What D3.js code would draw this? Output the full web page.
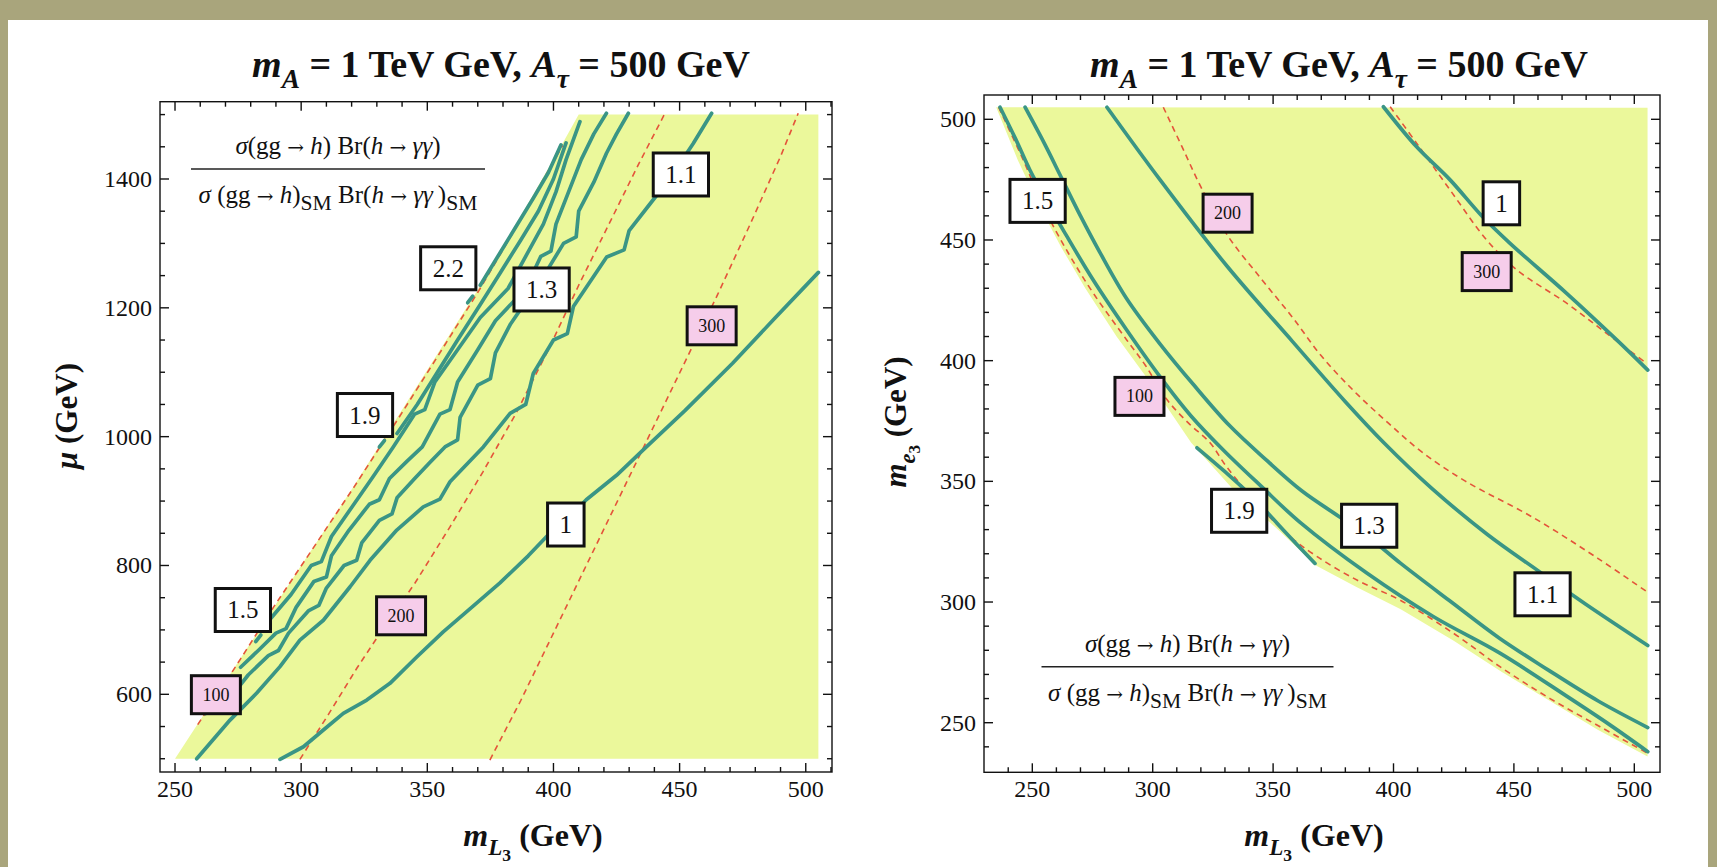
<!DOCTYPE html>
<html><head><meta charset="utf-8">
<script src="https://cdn.jsdelivr.net/npm/d3@7"></script>
<style>
body{margin:0;background:#a9a57c;}
svg{display:block}
text{font-family:"Liberation Serif","Times New Roman",serif;fill:#111;}
</style></head><body>
<svg id="chart" width="1717" height="867"></svg>
<script>
// ---------- axis ticks ----------
const xMajorL = [250, 300, 350, 400, 450, 500];
const yMajorL = [600, 800, 1000, 1200, 1400];
const xMajorR = [250, 300, 350, 400, 450, 500];
const yMajorR = [250, 300, 350, 400, 450, 500];

// ---------- left panel: mu vs m_L3 ----------
// edge of the allowed (filled) region
const allowedEdgeL = [[250,500],[275,650],[300,800],[320,918],[337,1023],[353,1122],[369.5,1225],[386,1335],[402.6,1448],[410,1500]];
// ratio contours
const ratio1L   = [[291.6,499],[300.9,518.6],[308.8,544.6],[316.7,570.5],[326,591],[335.2,617],[345.8,658],[356.3,697],[367,733],[378.8,773],[390,815],[397.3,845],[404,866],[413,902],[425,940],[436,981],[452,1040],[471,1114],[488,1185],[505,1255]];
const ratio11L  = [[258.6,500],[271.8,560],[282.4,602],[291.6,643],[299.5,684],[308.8,715],[319.4,767],[327.3,808],[337.9,855],[348.4,891],[355,903],[359,930],[372.2,984],[382.8,1036],[389,1050],[392,1098],[400,1150],[405.5,1160],[407.9,1202],[421.1,1279],[428,1290],[430,1320],[438,1360],[446,1400],[455.4,1455],[462.7,1502]];
const ratio13L  = [[262,570],[270,600],[276,615],[279,630],[287,660],[291,668],[295,695],[303,730],[307,738],[310,765],[317,800],[322,808],[324,835],[331,870],[336,880],[338,905],[345,935],[351,960],[357,984],[362,995],[363,1030],[370,1080],[375,1090],[377,1130],[383,1175],[390,1215],[397,1255],[404,1300],[409,1310],[410,1350],[416,1395],[421,1440],[425,1470],[429.7,1502]];
const ratio14L  = [[276,642],[283,668],[290,695],[294,702],[298,735],[305,775],[310,782],[312,815],[319,855],[327,895],[331,902],[335,935],[342,962],[348,984],[355,1035],[359,1042],[362,1085],[370,1135],[377,1180],[389,1230],[395,1280],[399,1288],[401,1330],[406,1380],[411,1430],[416,1470],[421,1502]];
const ratio15L  = [[[282,682],[284,692]],
                   [[288,718],[296,755],[304,800],[308,806],[312,845],[320,890],[328,935],[336.5,984],[345,1035],[349,1042],[353,1085],[362,1135],[371,1185],[382,1230],[389,1280],[396,1330],[401,1380],[405,1430],[410.5,1489]]];
const ratio19L  = [[[331,984],[333,994]],
                   [[338,1005],[346,1050],[354,1100],[362,1150],[371,1205],[379,1255],[387,1305],[394,1350],[400,1400],[405,1456]]];
const ratio22L  = [[[366,1208],[368,1218]],
                   [[371,1235],[378,1280],[385,1325],[392,1370],[398,1410],[403,1453]]];
// stau mass contours (GeV)
const stau100L  = [[259,553],[276,655],[289,735],[301,805],[321,922],[338,1025],[354,1124],[370.5,1227],[387,1337],[403.6,1452]];
const stau200L  = [[299.5,499],[311,570],[322,640],[333,705],[345,772],[359,860],[372,945],[385,1035],[398,1135],[410,1235],[422,1330],[434,1425],[444.2,1502]];
const stau300L  = [[374.8,498],[387,590],[400,695],[413,800],[426,905],[439,1010],[452,1115],[465,1220],[478,1330],[490,1435],[497,1502]];
const labelsL = [
  {text:"2.2", at:[358.3,1261.4], kind:"ratio"},
  {text:"1.9", at:[325.3,1033.6], kind:"ratio"},
  {text:"1.5", at:[276.9,730.9],  kind:"ratio"},
  {text:"1.3", at:[395.3,1228.5], kind:"ratio"},
  {text:"1.1", at:[450.5,1407],   kind:"ratio"},
  {text:"1",   at:[404.9,863.6],  kind:"ratio"},
  {text:"100", at:[266.2,599.4],  kind:"mass"},
  {text:"200", at:[339.6,721.9],  kind:"mass"},
  {text:"300", at:[462.7,1172.1], kind:"mass"}
];

// ---------- right panel: m_e3 vs m_L3 ----------
const allowedEdgeR = [[235,505],[244,483],[253,464],[262,447],[272,430],[285,410],[299,391],[316,366],[334,346],[352,330],[368,315],[385,306],[403,297],[425,284],[445,271],[465,259],[485,247],[505.5,236]];
const ratio1R   = [[395.8,505.2],[409.6,488.6],[423.5,474.9],[437,459.6],[448.4,448.6],[471.9,427.9],[492.7,408.6],[505.6,396.1]];
const ratio11R  = [[281,505],[303,475],[331,439],[358,408],[380,383],[396,366],[416,347],[439,328],[460,313],[480,299],[505.6,282]];
const ratio13R  = [[247,505],[255,490],[262,476],[270,460],[278,445],[289,426],[303,407],[317,390],[332,373],[347,359],[362,346],[378,335],[392,325],[403,316],[424,300],[444,285],[464,272],[485,259],[505.6,248]];
const ratio15R  = [[236.6,505],[243,492],[249,479],[256,466],[262.9,454],[275.3,433.4],[289.2,412.7],[303,393.4],[316,377],[329.3,363],[345,348],[361.2,333],[388.9,312],[416.5,294],[444.2,278.8],[471.9,261],[490,249],[505.6,238]];
const ratio19R  = [[318.4,363.9],[330,354],[342,343],[355,329],[367.4,316]];
const stau100R  = [[236,505],[246.3,483],[255,463],[265,444.5],[275.3,428],[289.2,408.6],[297,398],[305.8,384],[315,374],[323.8,366],[330.7,356],[344.6,339.5],[356,328],[368,319],[385,309],[402.7,300.8],[425,287],[444.2,273.2],[465,260],[485.8,248.3],[505.6,237.3]];
const stau200R  = [[304.4,505],[312,489],[320,472],[331,452],[345,434],[358,418],[370,402],[384,387],[398,374],[412,362],[430,350],[458,335],[485,318],[505.6,304]];
const stau300R  = [[398.6,505.2],[409.6,490.1],[423.5,470.7],[438.7,450],[451.2,437.6],[471.9,423.8],[488.5,411.3],[505.1,398.9]];
const labelsR = [
  {text:"1.5", at:[252.2,466.2], kind:"ratio"},
  {text:"1.9", at:[335.9,337.8], kind:"ratio"},
  {text:"1.3", at:[389.9,331.6], kind:"ratio"},
  {text:"1.1", at:[461.9,303.2], kind:"ratio"},
  {text:"1",   at:[444.8,465.2], kind:"ratio"},
  {text:"100", at:[294.5,385.2], kind:"mass"},
  {text:"200", at:[331.1,461.1], kind:"mass"},
  {text:"300", at:[438.7,436.9], kind:"mass"}
];

// ---------- styles ----------
const FILL = "#ebf89b", TEAL = "#3a9585", RED = "#e4543a", PINK = "#f6cdea";

const svg = d3.select("#chart");
svg.append("rect").attr("width",1717).attr("height",867).attr("fill","#a9a57c");
svg.append("rect").attr("x",8).attr("y",20).attr("width",1700).attr("height",847).attr("fill","#fff");

// rich text helper: segments with italic / subscript level / alternate font
function rich(parent, x, y, segs, size, anchor, bold, rotate) {
  const t = parent.append("text").attr("x",x).attr("y",y)
    .attr("font-size",size).attr("text-anchor",anchor)
    .attr("font-weight", bold ? "bold" : "normal");
  if (rotate) t.attr("transform",`rotate(${rotate},${x},${y})`);
  const off = [0, size*0.28, size*0.46];
  const sz = [size, size*0.72, size*0.55];
  let lv = 0;
  segs.forEach(s => {
    const l = s.lv || 0;
    const ts = t.append("tspan").text(s.t)
      .attr("font-size", sz[l]*(s.scale||1))
      .attr("font-style", s.i ? "italic" : "normal");
    if (s.font) ts.attr("font-family", s.font);
    if (l !== lv) ts.attr("dy", off[l]-off[lv]);
    lv = l;
  });
  return t;
}

const ARROW = {t:"→", font:"DejaVu Serif", scale:0.8};
const SM = {t:"SM", lv:1, scale:1.2};
const numer = [{t:"σ",i:1},{t:"(gg "},ARROW,{t:" "},{t:"h",i:1},{t:") Br("},{t:"h",i:1},{t:" "},ARROW,{t:" "},{t:"γγ",i:1},{t:")"}];
const denom = [{t:"σ",i:1},{t:" (gg "},ARROW,{t:" "},{t:"h",i:1},{t:")"},SM,{t:" Br(",lv:0},{t:"h",i:1},{t:" "},ARROW,{t:" "},{t:"γγ",i:1},{t:"\u2009)"},SM];
const titleSegs = [{t:"m",i:1},{t:"A",i:1,lv:1},{t:" = 1 TeV GeV, "},{t:"A",i:1},{t:"τ",i:1,lv:1},{t:" = 500 GeV"}];
const xLabSegs = [{t:"m",i:1},{t:"L",i:1,lv:1},{t:"3",lv:2},{t:" (GeV)"}];

function panel(cfg) {
  const xs = d3.scaleLinear().domain(cfg.xDom).range(cfg.px);
  const ys = d3.scaleLinear().domain(cfg.yDom).range(cfg.py);
  const g = svg.append("g");
  const cid = "clip"+cfg.id;
  svg.append("clipPath").attr("id",cid).append("rect")
    .attr("x",cfg.px[0]).attr("y",cfg.py[1]).attr("width",cfg.px[1]-cfg.px[0]).attr("height",cfg.py[0]-cfg.py[1]);
  const plot = g.append("g").attr("clip-path",`url(#${cid})`);

  // allowed region
  plot.append("path").attr("d", d3.line().x(d=>xs(d[0])).y(d=>ys(d[1]))(cfg.region)+"Z").attr("fill",FILL);

  const line = d3.line().x(d=>xs(d[0])).y(d=>ys(d[1])).curve(cfg.curve);
  cfg.stau.forEach(s => plot.append("path").attr("d", line(s)).attr("fill","none")
    .attr("stroke",RED).attr("stroke-width",1.6).attr("stroke-dasharray","6,4.5"));
  cfg.ratio.forEach(s => plot.append("path").attr("d", line(s)).attr("fill","none")
    .attr("stroke",TEAL).attr("stroke-width",3.7).attr("stroke-linejoin","round").attr("stroke-linecap","round"));

  // frame + ticks (on all four sides, pointing inwards)
  const [x0,x1] = cfg.px, [y0,y1] = cfg.py;
  const fr = g.append("g").attr("stroke","#111").attr("stroke-width",1.4);
  const minorX = d3.range(cfg.xMinor[0], cfg.xMinor[1]+0.1, cfg.xMinor[2]);
  const minorY = d3.range(cfg.yMinor[0], cfg.yMinor[1]+0.1, cfg.yMinor[2]);
  minorX.forEach(v => {
    const L = cfg.xMajor.includes(v) ? 9 : 5, X = xs(v);
    fr.append("line").attr("x1",X).attr("x2",X).attr("y1",y0).attr("y2",y0-L);
    fr.append("line").attr("x1",X).attr("x2",X).attr("y1",y1).attr("y2",y1+L);
  });
  minorY.forEach(v => {
    const L = cfg.yMajor.includes(v) ? 9 : 5, Y = ys(v);
    fr.append("line").attr("x1",x0).attr("x2",x0+L).attr("y1",Y).attr("y2",Y);
    fr.append("line").attr("x1",x1).attr("x2",x1-L).attr("y1",Y).attr("y2",Y);
  });
  fr.append("rect").attr("x",x0).attr("y",y1).attr("width",x1-x0).attr("height",y0-y1).attr("fill","none");

  cfg.xMajor.forEach(v => g.append("text").attr("x",xs(v)).attr("y",y0+25).attr("text-anchor","middle")
    .attr("font-size",24).text(v));
  cfg.yMajor.forEach(v => g.append("text").attr("x",x0-8).attr("y",ys(v)+8).attr("text-anchor","end")
    .attr("font-size",24).text(v));

  // contour labels
  cfg.labels.forEach(L => {
    const ratio = L.kind === "ratio";
    const lg = g.append("g").attr("transform",`translate(${xs(L.at[0])},${ys(L.at[1])})`);
    const r = lg.append("rect");
    const t = lg.append("text").attr("text-anchor","middle").attr("dominant-baseline","central")
      .attr("font-size", ratio ? 25 : 18).text(L.text);
    const bb = t.node().getBBox();
    const px = ratio ? 12 : 11, py = ratio ? 8 : 9;
    r.attr("x",bb.x-px).attr("y",bb.y-py).attr("width",bb.width+2*px).attr("height",bb.height+2*py)
      .attr("fill", ratio ? "#fff" : PINK).attr("stroke","#111").attr("stroke-width",3);
  });

  // ratio legend (fraction)
  const f = cfg.frac;
  rich(g, f.cx, f.y-15, numer, 25, "middle", false);
  g.append("line").attr("x1",f.cx-f.w/2).attr("x2",f.cx+f.w/2).attr("y1",f.y).attr("y2",f.y)
    .attr("stroke","#222").attr("stroke-width",1.4);
  rich(g, f.cx, f.y+34, denom, 25, "middle", false);

  // titles and axis labels
  rich(g, cfg.titleX, 77, titleSegs, 38, "middle", true);
  rich(g, cfg.xLabX, 846, xLabSegs, 32, "middle", true);
  rich(g, cfg.yLabX, cfg.yLabY, cfg.yLabSegs, 31, "middle", true, -90);
}

panel({
  id:"L", px:[160,832], py:[772,101.7], xDom:[244.05,510.4], yDom:[479.4,1520],
  curve: d3.curveLinear,
  region: allowedEdgeL.concat([[505,1500],[505,500]]),
  ratio: [ratio1L, ratio11L, ratio13L, ratio14L, ...ratio15L, ...ratio19L, ...ratio22L],
  stau: [stau100L, stau200L, stau300L],
  xMajor:xMajorL, yMajor:yMajorL, xMinor:[250,510,10], yMinor:[500,1500,50],
  labels: labelsL,
  frac:{cx:338, y:169, w:294},
  titleX:501, xLabX:533, yLabX:77, yLabY:416,
  yLabSegs:[{t:"μ",i:1},{t:" (GeV)"}]
});

panel({
  id:"R", px:[984,1660], py:[772.3,95], xDom:[229.94,510.67], yDom:[229.45,510.07],
  curve: d3.curveCatmullRom,
  region: allowedEdgeR.concat([[505.5,504.8]]),
  ratio: [ratio1R, ratio11R, ratio13R, ratio15R, ratio19R],
  stau: [stau100R, stau200R, stau300R],
  xMajor:xMajorR, yMajor:yMajorR, xMinor:[240,500,10], yMinor:[240,500,10],
  labels: labelsR,
  frac:{cx:1187.5, y:666.7, w:292},
  titleX:1339, xLabX:1314, yLabX:906, yLabY:422,
  yLabSegs:[{t:"m",i:1},{t:"e",i:1,lv:1},{t:"3",lv:2},{t:" (GeV)"}]
});
</script>
</body></html>
